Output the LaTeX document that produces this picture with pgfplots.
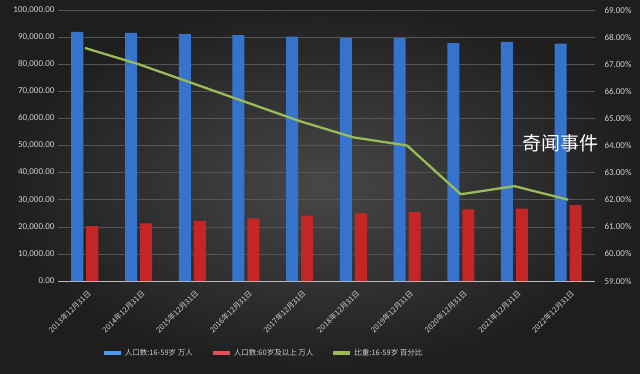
\documentclass[border=0pt]{standalone}
\usepackage{pgfplots}
\pgfplotsset{compat=1.18}
\usepackage{fontspec}
\setmainfont{Carlito}
\newfontfamily\cjk{Noto Sans CJK SC}
\definecolor{bgin}{HTML}{474747}
\definecolor{bgout}{HTML}{1E1E1E}
\definecolor{gridgray}{HTML}{555555}
\definecolor{axisgray}{HTML}{BDBDBD}
\definecolor{labelgray}{HTML}{CFCFCF}
\definecolor{blueedge}{HTML}{3573CC}
\definecolor{bluemid}{HTML}{5199F0}
\definecolor{rededge}{HTML}{C42626}
\definecolor{redmid}{HTML}{EE4C4C}
\definecolor{linegreen}{HTML}{9BBB59}
\pgfplotstableread{
x young old ratio
0 91954 20243 67.6
1 91583 21242 67.0
2 91096 22200 66.3
3 90747 23086 65.6
4 90199 24090 64.9
5 89729 24949 64.3
6 89640 25388 64.0
7 87800 26402 62.2
8 88222 26736 62.5
9 87556 28004 62.0
}\datatab
\begin{document}
\begin{tikzpicture}
\shade[inner color=bgin, outer color=bgout] (0,0) rectangle (640pt,373pt);
\begin{axis}[
  at={(58pt,92pt)}, anchor=south west, scale only axis,
  width=537pt, height=271pt,
  xmin=-0.5, xmax=9.5, ymin=0, ymax=100000,
  ytick={0,10000,...,100000},
  xtick={0,...,9},
  xticklabels={2013年12月31日,2014年12月31日,2015年12月31日,2016年12月31日,2017年12月31日,2018年12月31日,2019年12月31日,2020年12月31日,2021年12月31日,2022年12月31日},
  axis x line*=bottom, axis y line*=left,
  y axis line style={draw=none},
  x axis line style={draw=axisgray, line width=0.9pt, -},
  major tick length=0pt,
  ymajorgrids, grid style={gridgray, line width=0.6pt},
  tick label style={font=\fontsize{9}{10}\selectfont, text=labelgray},
  scaled y ticks=false,
  yticklabel style={/pgf/number format/.cd, fixed, fixed zerofill, precision=2, 1000 sep={,}, assume math mode=true},
  xticklabel style={rotate=45, anchor=north east, font=\cjk\fontsize{7.5}{8}\selectfont, xshift=-1pt, yshift=-4pt},
  ybar, bar width=12pt,
  clip=false,
]
\addplot[draw=none, shading=axis, shading angle=90, left color=blueedge, middle color=bluemid, right color=blueedge, bar shift=-7.5pt] table[x=x,y=young]{\datatab};
\addplot[draw=none, shading=axis, shading angle=90, left color=rededge, middle color=redmid, right color=rededge, bar shift=7.5pt] table[x=x,y=old]{\datatab};
\end{axis}
\begin{axis}[
  at={(58pt,92pt)}, anchor=south west, scale only axis,
  width=537pt, height=271pt,
  xmin=-0.5, xmax=9.5, ymin=59, ymax=69,
  ytick={59,...,69},
  xtick=\empty,
  axis x line=none, axis y line*=right,
  y axis line style={draw=none},
  major tick length=0pt,
  tick label style={font=\fontsize{9}{10}\selectfont, text=labelgray},
  yticklabel style={xshift=6pt},
  yticklabel={\pgfmathprintnumber[fixed,fixed zerofill,precision=2,assume math mode=true]{\tick}\%},
  legend style={at={(0.382,-0.266)}, anchor=center, draw=none, fill=none,
    font=\cjk\fontsize{7.5}{8}\selectfont, text=labelgray,
    /tikz/every even column/.append style={column sep=16pt}},
  legend columns=3,
  legend image code/.code={\draw[line width=4pt] (0pt,0pt) -- (17pt,0pt);},
]
\addlegendimage{color=bluemid}
\addlegendentry{人口数:16-59岁 万人}
\addlegendimage{color=redmid}
\addlegendentry{人口数:60岁及以上 万人}
\addplot[color=linegreen, line width=2.3pt, mark=none] table[x=x,y=ratio]{\datatab};
\addlegendentry{比重:16-59岁 百分比}
\end{axis}
\node[text=white, font=\cjk\fontsize{19}{20}\selectfont, inner sep=0pt] at (560pt,230pt) {奇闻事件};
\end{tikzpicture}
\end{document}
